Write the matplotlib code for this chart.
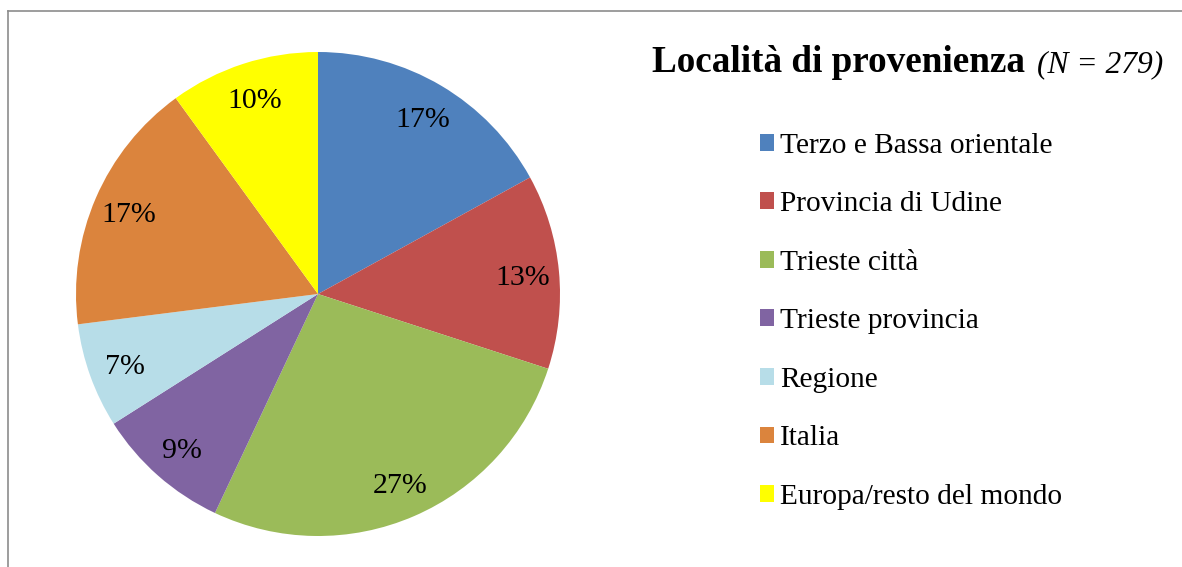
import matplotlib.pyplot as plt
from matplotlib.lines import Line2D

labels = ["Terzo e Bassa orientale", "Provincia di Udine", "Trieste città",
          "Trieste provincia", "Regione", "Italia", "Europa/resto del mondo"]
values = [17, 13, 27, 9, 7, 17, 10]
colors = ["#4F81BD", "#C0504D", "#9BBB59", "#8064A2", "#B7DDE8", "#DB843D", "#FFFF00"]

plt.rcParams['font.family'] = ['Liberation Serif', 'DejaVu Serif']

fig = plt.figure(figsize=(11.82, 5.67), dpi=100)

# pie centred at about (318, 294) px, radius 242 px
ax = fig.add_axes([76 / 1182, 31 / 567, 484 / 1182, 484 / 567])
wedges, texts, autotexts = ax.pie(values, colors=colors, startangle=90, counterclock=False,
                                  autopct='%d%%', pctdistance=0.85,
                                  textprops={'fontsize': 21.5, 'color': 'black'})
for t in autotexts:
    t.set_va('center_baseline')
ax.set_xlim(-1, 1)
ax.set_ylim(-1, 1)
ax.set_aspect('equal')

# title
fig.text(1025 / 1182, 1 - 72 / 567, "Località di provenienza", ha='right', va='baseline',
         fontsize=26.7, fontweight='bold')
fig.text(1037 / 1182, 1 - 72 / 567, "(N = 279)", ha='left', va='baseline',
         fontsize=22.7, fontstyle='italic')

fig.legend(wedges, labels, loc='upper left', bbox_to_anchor=(745 / 1182, 1 - 118 / 567),
           frameon=False, fontsize=21.2, handlelength=0.5, handleheight=0.5,
           handletextpad=0.2, labelspacing=1.105, borderpad=0)

# outer chart frame (only left and top edges visible)
fig.add_artist(Line2D([7.5 / 1182, 7.5 / 1182], [0, 1 - 11 / 567], transform=fig.transFigure,
                      color='#8c8c8c', lw=1.2))
fig.add_artist(Line2D([7.5 / 1182, 1], [1 - 11 / 567, 1 - 11 / 567], transform=fig.transFigure,
                      color='#8c8c8c', lw=1.2))

fig.savefig("out.png", dpi=100)
